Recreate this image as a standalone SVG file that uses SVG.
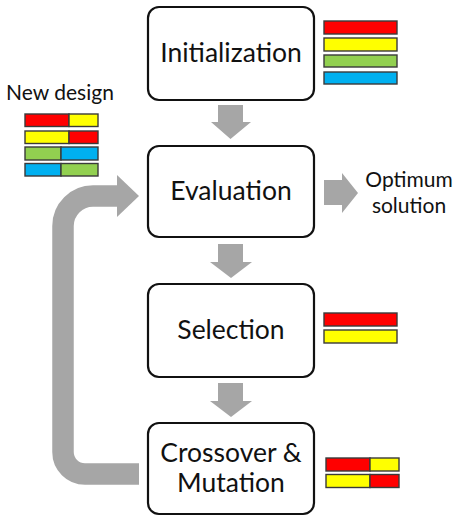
<svg xmlns="http://www.w3.org/2000/svg" width="454" height="516" viewBox="0 0 454 516">
  <style>
    .box { fill: #ffffff; stroke: #111111; stroke-width: 2.2; }
    .label { font-family: Lato, "Open Sans", sans-serif; fill: #111111; text-anchor: middle; }
    .big { font-size: 26.5px; }
    .small { font-size: 21px; }
    .flow { fill: #a6a6a6; }
    .bar { stroke: #3a3a3a; stroke-width: 1.4; }
    .r { fill: #ff0000; }
    .y { fill: #ffff00; }
    .g { fill: #92d050; }
    .b { fill: #00b0f0; }
  </style>

  <!-- connectors: block arrows between the stages -->
  <g id="connectors">
    <polygon class="flow" points="218,105 243,105 243,122 251,122 230.5,139 211,122 218,122"/>
    <polygon class="flow" points="218,244 243,244 243,262 252,262 231,278 210,262 218,262"/>
    <polygon class="flow" points="218,383 243,383 243,401 252,401 231,417 210,401 218,401"/>
    <polygon class="flow" points="324,180 342,180 342,173 358,193 342,213 342,205 324,205"/>
    <!-- feedback loop from Crossover & Mutation back to Evaluation -->
    <path fill="none" stroke="#a6a6a6" stroke-width="21.5" d="M139,474 H85 A22,22 0 0 1 63,452 V226 A30,30 0 0 1 93,196 H119"/>
    <polygon class="flow" points="117,175 139,196 117,217"/>
  </g>

  <g id="initialization">
    <rect class="box" x="148" y="7" width="166" height="93" rx="11"/>
    <text class="label big" x="231" y="62">Initialization</text>
  </g>
  <g id="init-population">
    <rect class="bar r" x="324" y="21" width="73" height="13"/>
    <rect class="bar y" x="324" y="38" width="73" height="13"/>
    <rect class="bar g" x="324" y="55" width="73" height="12"/>
    <rect class="bar b" x="324" y="72" width="73" height="12"/>
  </g>

  <g id="evaluation">
    <rect class="box" x="148" y="146" width="166" height="91" rx="11"/>
    <text class="label big" x="231" y="200">Evaluation</text>
  </g>

  <g id="optimum">
    <text class="label small" x="409" y="187">Optimum</text>
    <text class="label small" x="409" y="213">solution</text>
  </g>

  <g id="new-design">
    <text class="label small" x="60" y="100">New design</text>
    <rect class="bar r" x="25" y="114" width="44" height="12.5"/>
    <rect class="bar y" x="69" y="114" width="29" height="12.5"/>
    <rect class="bar y" x="25" y="131" width="44" height="12.5"/>
    <rect class="bar r" x="69" y="131" width="29" height="12.5"/>
    <rect class="bar g" x="25" y="147" width="36" height="13"/>
    <rect class="bar b" x="61" y="147" width="37" height="13"/>
    <rect class="bar b" x="25" y="163.5" width="36" height="12.5"/>
    <rect class="bar g" x="61" y="163.5" width="37" height="12.5"/>
  </g>

  <g id="selection">
    <rect class="box" x="148" y="284" width="166" height="93" rx="11"/>
    <text class="label big" x="231" y="339">Selection</text>
  </g>
  <g id="selected-pair">
    <rect class="bar r" x="324" y="313" width="73" height="13"/>
    <rect class="bar y" x="324" y="330" width="73" height="13"/>
  </g>

  <g id="crossover-mutation">
    <rect class="box" x="148" y="423" width="166" height="91" rx="11"/>
    <text class="label big" x="231" y="462">Crossover &amp;</text>
    <text class="label big" x="231" y="492">Mutation</text>
  </g>
  <g id="offspring">
    <rect class="bar r" x="326" y="458" width="44" height="13"/>
    <rect class="bar y" x="370" y="458" width="29" height="13"/>
    <rect class="bar y" x="326" y="474.5" width="44" height="13"/>
    <rect class="bar r" x="370" y="474.5" width="29" height="13"/>
  </g>
</svg>
